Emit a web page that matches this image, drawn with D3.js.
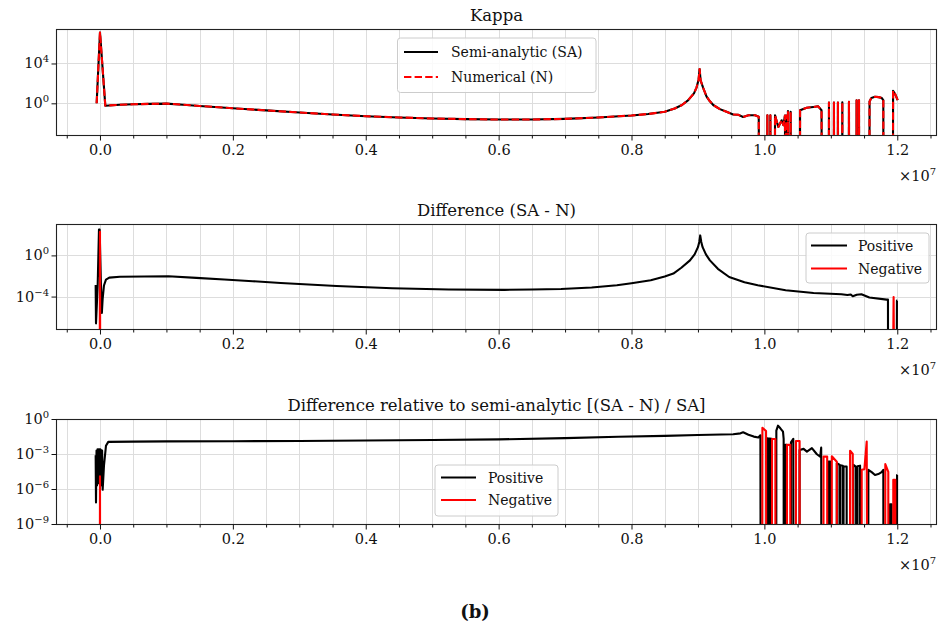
<!DOCTYPE html>
<html><head><meta charset="utf-8">
<script src="https://cdn.jsdelivr.net/npm/d3@7"></script>
<style>
body{margin:0;background:#fff}
svg{display:block}
text{font-family:"DejaVu Serif",serif;fill:#111}
</style>
</head><body>
<svg id="c" width="940" height="630"></svg>
<script>
// ---------------- DATA (x in units of 1e7) ----------------
const xTickValues = [0.0, 0.2, 0.4, 0.6, 0.8, 1.0, 1.2];
const xTickLabels = ["0.0", "0.2", "0.4", "0.6", "0.8", "1.0", "1.2"];
const xMinorValues = [-0.05,0.05,0.1,0.15,0.25,0.3,0.35,0.45,0.5,0.55,0.65,0.7,0.75,0.85,0.9,0.95,1.05,1.1,1.15,1.25];
const xOffsetLabel = ["×10", "7"];

const titles = ["Kappa", "Difference (SA - N)", "Difference relative to semi-analytic [(SA - N) / SA]"];
const legend1 = ["Semi-analytic (SA)", "Numerical (N)"];
const legend23 = ["Positive", "Negative"];
const figLabel = "(b)";

const yTicks1 = [1e0, 1e4];   const yExp1 = ["0", "4"];
const yTicks2 = [1e-4, 1e0];  const yExp2 = ["−4", "0"];
const yTicks3 = [1e-9, 1e-6, 1e-3, 1e0]; const yExp3 = ["−9", "−6", "−3", "0"];

// Kappa, semi-analytic (0 = non-positive value, clipped below the axis)
const kappaSA = [
 [-0.005,1.0],[0.0,1.3e7],[0.008,0.58],[0.03,0.72],[0.05,0.80],[0.075,0.88],[0.1,0.93],[0.125,0.72],[0.15,0.54],[0.2,0.32],
 [0.25,0.195],[0.3,0.12],[0.35,0.076],[0.4,0.051],[0.45,0.038],[0.5,0.030],[0.55,0.026],
 [0.6,0.0234],[0.65,0.0234],[0.7,0.0275],[0.75,0.038],[0.8,0.060],[0.825,0.085],[0.85,0.14],[0.865,0.3],[0.876,0.68],
 [0.885,2.0],[0.894,10],[0.898,40],[0.901,250],[0.9025,2800],[0.904,200],[0.908,34],[0.913,4.8],[0.918,1.6],
 [0.923,0.68],[0.933,0.26],[0.943,0.14],[0.953,0.076],[0.961,0.07],[0.968,0.042],[0.976,0.063],[0.986,0.063],
 [0.9915,0.045],[0.9935,0],
 [1.004,0],[1.0045,0.062],[1.0055,0],[1.0085,0],[1.009,0.062],[1.010,0],
 [1.0155,0],[1.016,0.062],[1.021,0.0042],[1.026,0.02],[1.0286,0.0063],[1.031,0.06],[1.0315,0],
 [1.0322,0],[1.0327,0.06],[1.0335,0],[1.035,0],[1.0355,0.17],[1.037,0],[1.039,0],[1.0395,0.14],[1.041,0],
 [1.0532,0],[1.0537,0.2],[1.0636,0.36],[1.0737,0.43],[1.081,0.5],[1.086,0.2],[1.0877,0],
 [1.0965,0],[1.0972,1.2],[1.098,0],[1.104,0],[1.1047,1.2],[1.1055,0],[1.110,0],[1.1107,1.2],[1.1115,0],
 [1.1166,0],[1.1173,1.3],[1.1181,0],[1.1266,0],[1.1273,1.4],[1.1281,0],[1.1381,0],[1.1388,2.0],[1.1396,0],
 [1.1417,0],[1.1424,2.0],[1.1432,0],
 [1.1577,0],[1.1583,1.5],[1.161,3.5],[1.1665,4.5],[1.172,4.2],[1.1766,3.5],[1.179,2.0],[1.1795,0],
 [1.1932,0],[1.1937,18],[1.197,8],[1.2006,2.1]
];
// Kappa, numerical: indistinguishable from SA at this scale
const kappaN = kappaSA.map(d => [d[0], d[1]]);

// Difference (SA - N)
const diffPos = [
 [-0.0065,1.3e-3],[-0.006,2.5e-7],[-0.0035,1e-3],[-0.0015,320],[-0.001,1e-2],[-0.0005,320],[0.0015,1e-3],[0.0028,2.5e-6],
 [0.004,6e-5],[0.006,1.2e-3],[0.009,4.5e-3],[0.014,7e-3],[0.03,8.5e-3],[0.103,9.3e-3],
 [0.145,6.5e-3],[0.187,4.5e-3],[0.23,3.1e-3],[0.272,2.1e-3],[0.356,1.07e-3],[0.44,6.5e-4],[0.525,4.8e-4],[0.609,4.5e-4],
 [0.65,4.8e-4],[0.694,5.5e-4],[0.74,7.6e-4],[0.778,1.26e-3],[0.8,2.0e-3],[0.829,3.8e-3],[0.85,8.9e-3],[0.863,0.017],
 [0.875,0.063],[0.888,0.33],[0.895,1.26],[0.9,6.3],[0.902,20],
 [0.9034,87],[0.905,20],[0.907,6.3],[0.912,1.26],[0.918,0.33],[0.93,0.05],[0.947,8e-3],[0.97,2.5e-3],[0.99,1.26e-3],[1.032,4.1e-4],
 [1.074,2.24e-4],[1.116,1.7e-4],[1.125,1.4e-4],[1.13,1.6e-4],[1.133,1.07e-4],[1.139,1.5e-4],
 [1.146,1.7e-4],[1.158,8e-5],[1.184,5.1e-5],[1.186,5e-5],[1.1865,0],[1.1985,0],[1.1995,4e-5],[1.2,4e-5]
];
const diffNeg = [
 [-0.0008,0],[0.0,200],[0.0008,0],[1.191,0],[1.1945,9e-5],[1.197,0]
];

// Relative difference (SA - N) / SA
const relPos = [
 [-0.0065,8e-4],[-0.006,7e-8],[-0.0052,2e-3],[-0.0045,2e-6],[-0.0037,2.5e-3],[-0.003,3e-6],[-0.0022,2.5e-3],
 [-0.0015,5e-6],[-0.0008,2.5e-3],[-0.0002,1e-5],[0.0005,2.5e-3],[0.0012,1e-5],[0.0019,2.2e-3],[0.0026,2e-6],
 [0.0032,2e-3],[0.004,8.5e-7],[0.006,1e-4],[0.009,5e-3],
 [0.0125,1.1e-2],[0.05,1.15e-2],[0.1,1.2e-2],[0.2,1.25e-2],[0.3,1.32e-2],[0.4,1.45e-2],
 [0.5,1.6e-2],[0.6,1.8e-2],[0.7,2.3e-2],[0.78,3.0e-2],[0.85,3.6e-2],[0.9,4.2e-2],[0.953,4.9e-2],
 [0.964,5.9e-2],[0.968,7.2e-2],[0.976,4.5e-2],[0.984,3.1e-2],[0.991,2.6e-2],[0.994,4e-2],[0.9948,0],
 [1.0035,0],[1.004,2.2e-2],[1.006,2.1e-2],[1.0065,0],[1.007,0],[1.0075,2.1e-2],[1.0085,2.1e-2],
 [1.009,0],[1.0095,0],[1.010,2.0e-2],[1.0112,2.0e-2],[1.0115,0],
 [1.0178,0],[1.018,0.1],[1.0205,0.27],[1.024,0.16],[1.028,0.083],[1.029,0.02],[1.0292,0],
 [1.0312,0],[1.0315,6e-3],[1.0335,6e-3],[1.0338,0],[1.0398,0],[1.04,1e-2],[1.0435,2e-2],[1.0438,0],
 [1.0528,0],[1.053,2.2e-3],[1.059,2.75e-3],[1.064,1.6e-3],[1.0715,3.2e-3],[1.079,9.5e-4],
 [1.084,6e-4],[1.0855,3.5e-3],[1.086,0],
 [1.0963,0],[1.0965,2.2e-4],[1.0995,2.2e-4],[1.0998,0],
 [1.1088,0],[1.109,1.6e-4],[1.113,1.2e-4],[1.1133,0],[1.114,0],[1.1142,1.1e-4],[1.118,1e-4],[1.1183,0],
 [1.119,0],[1.1192,9e-5],[1.1238,8.5e-5],[1.124,0],
 [1.1338,0],[1.134,1.2e-4],[1.138,8e-5],[1.1383,0],[1.14,0],[1.1402,9e-5],[1.144,1e-4],[1.1442,0],
 [1.1563,0],[1.1565,4.4e-5],[1.1615,2.8e-5],[1.1665,1.6e-5],[1.1715,1.9e-5],[1.1765,2.8e-5],[1.179,4.4e-5],[1.1795,0],
 [1.1888,0],[1.189,5e-8],[1.1915,5e-8],[1.1918,0],
 [1.1995,0],[1.1997,1.6e-5],[1.2,1.6e-5]
];
const relNeg = [
 [-0.0006,0],[0.0,1.2e-5],[0.0006,0],
 [0.9968,0],[0.997,0.18],[1.0025,0.093],[1.003,0],
 [1.0113,0],[1.0115,1.95e-2],[1.0165,1.95e-2],[1.0168,0],
 [1.0338,0],[1.034,6e-3],[1.039,6e-3],[1.0393,0],
 [1.0473,0],[1.0475,1.3e-2],[1.053,1.3e-2],[1.0533,0],
 [1.0888,0],[1.089,6e-4],[1.0945,6e-4],[1.0948,0],
 [1.1013,0],[1.1015,6.5e-4],[1.109,2.2e-4],[1.1092,0],
 [1.1288,0],[1.129,1.9e-3],[1.133,1e-3],[1.1333,0],
 [1.1463,0],[1.1465,4.4e-5],[1.1505,5e-5],[1.154,1.15e-2],[1.1555,0],
 [1.1818,0],[1.182,1.35e-4],[1.1865,3e-5],[1.1868,0],
 [1.1938,0],[1.194,6e-6],[1.197,6e-6],[1.1973,0]
];

// ---------------- DRAWING ----------------
const svg = d3.select("#c");
const xLeft = 56, xRight = 937;
const x = d3.scaleLinear().domain([-0.0662, 1.2598]).range([xLeft, xRight]);
const FLOOR = 1e-30;

const panels = [
 {top:29,  bottom:135, dom:[Math.pow(10,-3.18), Math.pow(10,7.46)], ticks:yTicks1, exps:yExp1, title:titles[0],
  series:[{d:kappaSA,c:"#000",dash:null},{d:kappaN,c:"#ff0000",dash:"7.4,3.2"}],
  legend:{x:397.5,y:38,w:198.5,h:54.5,lx1:404,lx2:438,tx:451,rows:[52,77],labels:legend1,
          styles:[{c:"#000",dash:null},{c:"#ff0000",dash:"7.4,3.2"}]}},
 {top:224, bottom:329, dom:[Math.pow(10,-7.15), Math.pow(10,3.05)], ticks:yTicks2, exps:yExp2, title:titles[1],
  series:[{d:diffPos,c:"#000",dash:null},{d:diffNeg,c:"#ff0000",dash:null}],
  legend:{x:806,y:233,w:123,h:50,lx1:811,lx2:847,tx:858,rows:[245.5,268.5],labels:legend23,
          styles:[{c:"#000",dash:null},{c:"#ff0000",dash:null}]}},
 {top:419, bottom:524, dom:[1e-9, 1], ticks:yTicks3, exps:yExp3, title:titles[2],
  series:[{d:relPos,c:"#000",dash:null},{d:relNeg,c:"#ff0000",dash:null}],
  legend:{x:435,y:465,w:123,h:51,lx1:441,lx2:476,tx:488,rows:[477.5,500],labels:legend23,
          styles:[{c:"#000",dash:null},{c:"#ff0000",dash:null}]}}
];

panels.forEach((p, i) => {
  const y = d3.scaleLog().domain(p.dom).range([p.bottom, p.top]);
  const g = svg.append("g");
  const clipId = "clip" + i;
  svg.append("clipPath").attr("id", clipId).append("rect")
    .attr("x", xLeft).attr("y", p.top).attr("width", xRight - xLeft).attr("height", p.bottom - p.top);

  // grid
  const gg = g.append("g").attr("stroke", "#dddddd").attr("stroke-width", 1);
  xTickValues.concat(xMinorValues).forEach(v => {
    const px = Math.round(x(v)) + 0.5;
    if (px > xLeft && px < xRight)
      gg.append("line").attr("x1", px).attr("x2", px).attr("y1", p.top).attr("y2", p.bottom);
  });
  p.ticks.forEach(v => {
    const py = Math.round(y(v)) + 0.5;
    if (py > p.top + 1 && py < p.bottom - 1)
      gg.append("line").attr("x1", xLeft).attr("x2", xRight).attr("y1", py).attr("y2", py);
  });

  // data lines
  const line = d3.line().x(d => x(d[0])).y(d => y(Math.max(d[1], FLOOR)));
  const lg = g.append("g").attr("clip-path", `url(#${clipId})`);
  p.series.forEach(s => {
    lg.append("path").attr("d", line(s.d)).attr("fill", "none")
      .attr("stroke", s.c).attr("stroke-width", 2.1)
      .attr("stroke-linejoin", "round").attr("stroke-linecap", "butt")
      .attr("stroke-dasharray", s.dash);
  });

  // spines
  g.append("rect").attr("x", xLeft + 0.5).attr("y", p.top + 0.5)
    .attr("width", xRight - xLeft - 1).attr("height", p.bottom - p.top)
    .attr("fill", "none").attr("stroke", "#222").attr("stroke-width", 1.1);

  // x axis
  const xa = d3.axisBottom(x).tickValues(xTickValues).tickFormat((d, k) => xTickLabels[k])
    .tickSize(5).tickPadding(4);
  const xg = g.append("g").attr("transform", `translate(0,${p.bottom + 0.5})`).call(xa);
  xg.select(".domain").remove();
  xg.selectAll("text").attr("font-size", 14.5).attr("font-family", "DejaVu Serif").attr("fill", "#111");
  xg.selectAll("line").attr("stroke", "#111");
  const xm = d3.axisBottom(x).tickValues(xMinorValues).tickFormat("").tickSize(3);
  const xmg = g.append("g").attr("transform", `translate(0,${p.bottom + 0.5})`).call(xm);
  xmg.select(".domain").remove();
  xmg.selectAll("line").attr("stroke", "#111");

  // y axis with superscript labels
  const ya = d3.axisLeft(y).tickValues(p.ticks).tickFormat("").tickSize(5);
  const yg = g.append("g").attr("transform", `translate(${xLeft + 0.5},0)`).call(ya);
  yg.select(".domain").remove();
  yg.selectAll("line").attr("stroke", "#111");
  p.ticks.forEach((v, k) => {
    const t = g.append("text").attr("x", xLeft - 7).attr("y", y(v) + 5)
      .attr("text-anchor", "end").attr("font-size", 14.5);
    t.append("tspan").text("10");
    t.append("tspan").attr("font-size", 10).attr("dy", -6).text(p.exps[k]);
  });

  // offset text ×10^7
  const ot = g.append("text").attr("x", 936).attr("y", p.bottom + 46)
    .attr("text-anchor", "end").attr("font-size", 14.5);
  ot.append("tspan").text(xOffsetLabel[0]);
  ot.append("tspan").attr("font-size", 10).attr("dy", -6).text(xOffsetLabel[1]);

  // title
  g.append("text").attr("x", (xLeft + xRight) / 2).attr("y", p.top - 8)
    .attr("text-anchor", "middle").attr("font-size", 16.5).text(p.title);

  // legend
  const L = p.legend;
  g.append("rect").attr("x", L.x).attr("y", L.y).attr("width", L.w).attr("height", L.h)
    .attr("rx", 3).attr("fill", "#fff").attr("fill-opacity", 0.85)
    .attr("stroke", "#cccccc").attr("stroke-width", 1);
  L.rows.forEach((ry, k) => {
    g.append("line").attr("x1", L.lx1).attr("x2", L.lx2).attr("y1", ry).attr("y2", ry)
      .attr("stroke", L.styles[k].c).attr("stroke-width", 2.1).attr("stroke-dasharray", L.styles[k].dash);
    g.append("text").attr("x", L.tx).attr("y", ry + 5).attr("font-size", 14).text(L.labels[k]);
  });
});

svg.append("text").attr("x", 475).attr("y", 618).attr("text-anchor", "middle")
  .attr("font-size", 18).attr("font-weight", "bold").text(figLabel);
</script>
</body></html>
